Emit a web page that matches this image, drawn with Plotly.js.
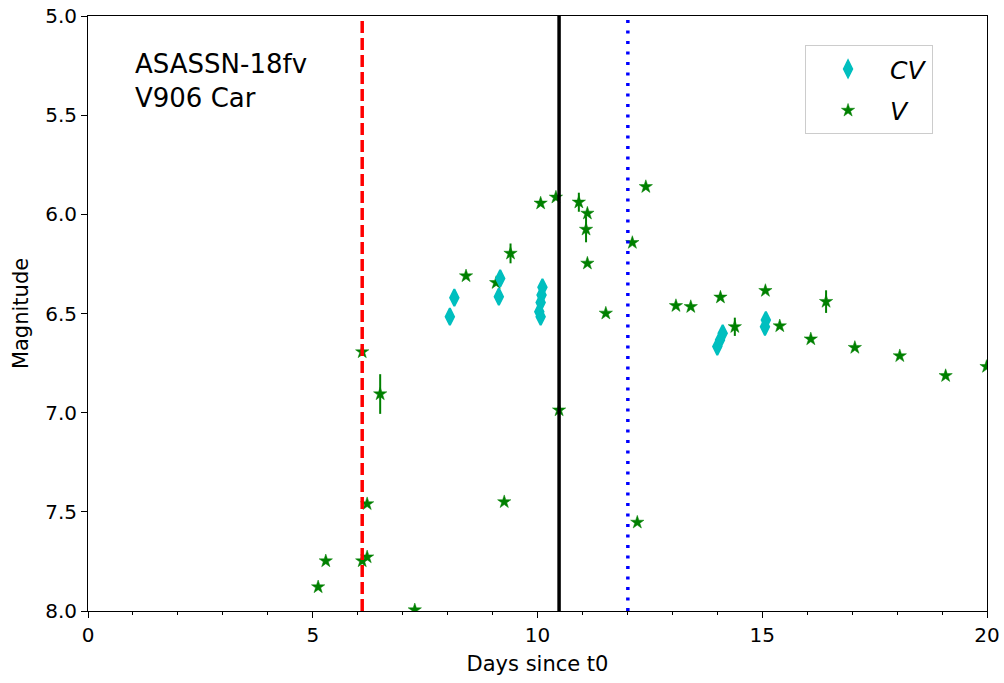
<!DOCTYPE html>
<html>
<head>
<meta charset="utf-8">
<script src="https://cdn.plot.ly/plotly-3.0.1.min.js"></script>
<style>html,body{margin:0;padding:0;background:#fff;}#chart{width:1004px;height:683px;}</style>
</head>
<body>
<div id="chart"></div>
<script>
// V band (green stars)
const V_days = [5.12, 5.29, 6.10, 6.10, 6.21, 6.21, 6.50, 7.27, 8.41, 9.08, 9.26, 9.40, 10.07, 10.41, 10.48, 10.92, 11.08, 11.11, 11.11, 11.52, 12.11, 12.22, 12.41, 13.08, 13.41, 14.07, 14.39, 15.07, 15.39, 16.08, 16.42, 17.06, 18.06, 19.08, 19.99];
const V_mag  = [7.879, 7.748, 6.694, 7.748, 7.728, 7.46, 6.906, 7.995, 6.311, 6.345, 7.45, 6.197, 5.944, 5.914, 6.987, 5.939, 6.076, 5.995, 6.247, 6.499, 6.143, 7.553, 5.861, 6.461, 6.466, 6.418, 6.567, 6.385, 6.563, 6.629, 6.440, 6.672, 6.714, 6.814, 6.768];
const V_err  = [0.01, 0.01, 0.01, 0.01, 0.01, 0.01, 0.10, 0.01, 0.01, 0.01, 0.01, 0.05, 0.01, 0.01, 0.01, 0.048, 0.065, 0.01, 0.01, 0.01, 0.01, 0.01, 0.01, 0.01, 0.01, 0.01, 0.046, 0.01, 0.01, 0.01, 0.057, 0.01, 0.01, 0.01, 0.01];

// CV band (cyan diamonds)
const CV_days = [8.05, 8.15, 9.14, 9.17, 10.04, 10.07, 10.07, 10.09, 10.11, 14.00, 14.06, 14.12, 15.06, 15.08];
const CV_mag  = [6.516, 6.420, 6.415, 6.323, 6.491, 6.445, 6.516, 6.407, 6.368, 6.667, 6.634, 6.600, 6.567, 6.533];
const CV_err  = [0.01, 0.01, 0.01, 0.01, 0.01, 0.01, 0.01, 0.01, 0.01, 0.01, 0.01, 0.01, 0.01, 0.01];

// Vertical reference lines (days)
const vlines = [6.10, 10.48, 12.01];
const vlineColors = ['#ff0000', '#000000', '#0000ff'];
const vlineDash = ['12px,5px', 'solid', '3px,7.5px'];

const labels = ['ASASSN-18fv', 'V906 Car'];
const xTicks = [0, 5, 10, 15, 20];
const yTicks = [5.0, 5.5, 6.0, 6.5, 7.0, 7.5, 8.0];

const FONT = 'DejaVu Sans, sans-serif';

const traces = [
  {
    x: V_days, y: V_mag, name: '<i>V</i>', type: 'scatter', mode: 'markers', legendgroup: 'v', legendrank: 2,
    marker: {symbol: 'star', size: 10, color: '#008000', line: {width: 0.5, color: '#008000'}},
    error_y: {type: 'data', array: V_err, visible: true, color: '#008000', thickness: 2, width: 0}
  },
  {
    x: CV_days, y: CV_mag, name: '<i>CV</i>', type: 'scatter', mode: 'markers', legendgroup: 'cv', legendrank: 1,
    marker: {symbol: 'diamond-tall', size: 12, color: '#00bfbf', line: {width: 2, color: '#00bfbf'}},
    error_y: {type: 'data', array: CV_err, visible: true, color: '#00bfbf', thickness: 2, width: 0}
  }
];

const shapes = vlines.map((v, i) => ({
  type: 'line', xref: 'x', yref: 'paper', x0: v, x1: v, y0: 0, y1: 1,
  line: {color: vlineColors[i], width: 3.5, dash: vlineDash[i]}
}));

const layout = {
  width: 1004, height: 683,
  margin: {l: 88, r: 17, t: 16, b: 72},
  paper_bgcolor: '#ffffff', plot_bgcolor: '#ffffff',
  font: {family: FONT, color: '#000000', size: 20},
  showlegend: true,
  legend: {
    x: 0.7976, y: 0.951, xanchor: 'left', yanchor: 'top',
    traceorder: 'grouped', tracegroupgap: 6,
    bgcolor: '#ffffff', bordercolor: '#cccccc', borderwidth: 1,
    font: {family: FONT, size: 25, color: '#000000'},
    itemwidth: 74
  },
  xaxis: {
    range: [0, 20], tickvals: xTicks, ticktext: xTicks.map(String),
    showgrid: false, zeroline: false, showline: true, linecolor: '#000000', linewidth: 1, mirror: true,
    ticks: 'outside', ticklen: 6, tickwidth: 1, tickcolor: '#000000',
    minor: {dtick: 1, ticks: 'outside', ticklen: 3, tickwidth: 1, tickcolor: '#000000', showgrid: false},
    tickfont: {family: FONT, size: 20},
    title: {text: 'Days since t0', font: {family: FONT, size: 21}, standoff: 10}
  },
  yaxis: {
    range: [8, 5], tickvals: yTicks, ticktext: yTicks.map(v => v.toFixed(1)),
    showgrid: false, zeroline: false, showline: true, linecolor: '#000000', linewidth: 1, mirror: true,
    ticks: 'outside', ticklen: 6, tickwidth: 1, tickcolor: '#000000',
    tickfont: {family: FONT, size: 20},
    title: {text: 'Magnitude', font: {family: FONT, size: 21}, standoff: 10}
  },
  shapes: shapes,
  annotations: [{
    xref: 'paper', yref: 'paper', x: 0.05, y: 0.948, xanchor: 'left', yanchor: 'top',
    text: labels.join('<br>'), showarrow: false, align: 'left',
    font: {family: FONT, size: 26, color: '#000000'}
  }]
};

Plotly.newPlot('chart', traces, layout, {displayModeBar: false, staticPlot: true});
</script>
</body>
</html>
